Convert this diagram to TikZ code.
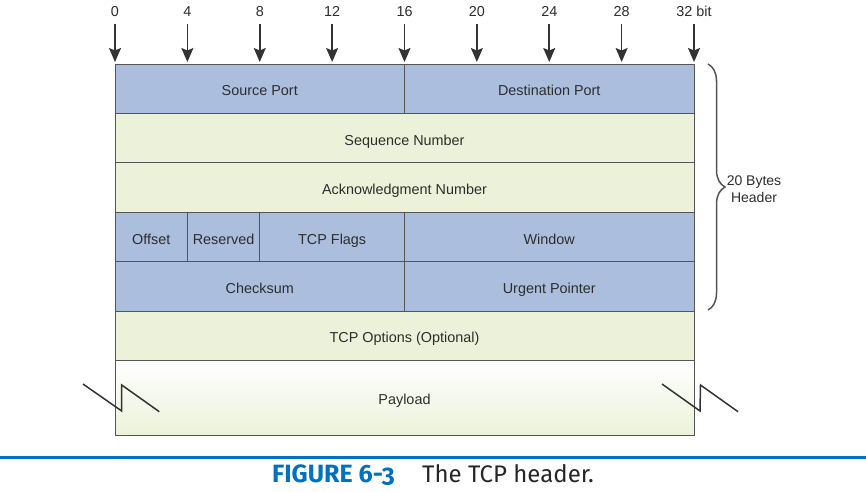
\documentclass[tikz,border=0pt]{standalone}
\usepackage{fontspec}
\setmainfont{Liberation Sans}
\newfontfamily\capfont[Numbers=OldStyle]{Fira Sans}
\usetikzlibrary{arrows.meta,decorations.pathreplacing}
\definecolor{hdrblue}{RGB}{171,190,222}
\definecolor{hdrgreen}{RGB}{235,242,217}
\definecolor{hdrline}{RGB}{85,85,85}
\definecolor{hdrtext}{RGB}{45,45,45}
\definecolor{capblue}{RGB}{0,112,192}

\begin{document}
\begin{tikzpicture}[x=1pt,y=-1pt]
	\tikzset{
		cell/.style={draw=hdrline, line width=1pt, inner sep=0, minimum height=49.4pt, text height=14.3pt, text depth=0pt, text=hdrtext, font=\fontsize{14.4}{17}\selectfont},
		bluecell/.style={cell, fill=hdrblue},
		greencell/.style={cell, fill=hdrgreen},
		bitlabel/.style={inner sep=0, text height=10.3pt, text depth=0pt, text=hdrtext, font=\fontsize{14.4}{17}\selectfont},
		bitarrow/.style={draw=black!80, line width=1.6pt, -{Stealth[length=14pt,width=12pt,inset=2.5pt]}},
		zigzag/.style={draw=black!80, line width=1.5pt}
	}
	\useasboundingbox (0,0) rectangle (866,491);
	
	%% BIT SCALE
	\foreach \b/\lab in {0/0,4/4,8/8,12/12,16/16,20/20,24/24,28/28,32/32 bit}{
		\node[bitlabel] (bit\b) at ({115+\b*18.094},11.5) {\lab};
		\coordinate (tip\b) at ({115+\b*18.094},62);
		\draw[bitarrow, shorten <=7pt] (bit\b.south) -- (tip\b);
	}
	
	%% HEADER ROWS
	\node[bluecell, minimum width=289.5pt] (SrcPort) at (259.75,88.7) {Source Port};
	\node[bluecell, minimum width=289.5pt] (DstPort) at (549.25,88.7) {Destination Port};
	\node[greencell, minimum width=579pt] (SeqNum) at (404.5,138.1) {Sequence Number};
	\node[greencell, minimum width=579pt] (AckNum) at (404.5,187.5) {Acknowledgment Number};
	\node[bluecell, minimum width=72.4pt] (Offset) at (151.2,236.9) {Offset};
	\node[bluecell, minimum width=72.4pt] (Reserved) at (223.6,236.9) {Reserved};
	\node[bluecell, minimum width=144.8pt] (Flags) at (332.2,236.9) {TCP Flags};
	\node[bluecell, minimum width=289.5pt] (Window) at (549.25,236.9) {Window};
	\node[bluecell, minimum width=289.5pt] (Checksum) at (259.75,286.3) {Checksum};
	\node[bluecell, minimum width=289.5pt] (Urgent) at (549.25,286.3) {Urgent Pointer};
	\node[greencell, minimum width=579pt] (Options) at (404.5,335.7) {TCP Options (Optional)};
	\node[cell, minimum width=579pt, minimum height=74.6pt, top color=white, bottom color=hdrgreen] (Payload) at (404.5,397.7) {Payload};
	
	%% BREAK MARKS
	\draw[zigzag] (83,384) -- (121.7,411) -- (121.7,385) -- (159.3,411.7);
	\draw[zigzag] (662,384) -- (700,411) -- (700.5,385) -- (738,411.7);
	
	%% 20 BYTE BRACE
	\coordinate (braceTop) at (708,64);
	\coordinate (braceBot) at (708,310);
	\draw[decorate, decoration={brace, amplitude=17pt}, line width=1.5pt, hdrline] (braceTop) -- (braceBot);
	\node[align=center, inner sep=0, text=hdrtext, font=\fontsize{14}{17}\selectfont] (HdrLabel) at (754,189.5) {20 Bytes\\Header};
	
	%% CAPTION
	\draw[capblue, line width=3pt] (0,457) -- (866,457);
	\node[anchor=base west, inner sep=0, text=capblue, font=\capfont\bfseries\fontsize{25}{28}\selectfont] (FigNum) at (272,482) {FIGURE 6-3};
	\node[anchor=base west, inner sep=0, text=black!85, font=\capfont\fontsize{24}{28}\selectfont] (FigText) at (422,482) {The TCP header.};
\end{tikzpicture}
\end{document}
